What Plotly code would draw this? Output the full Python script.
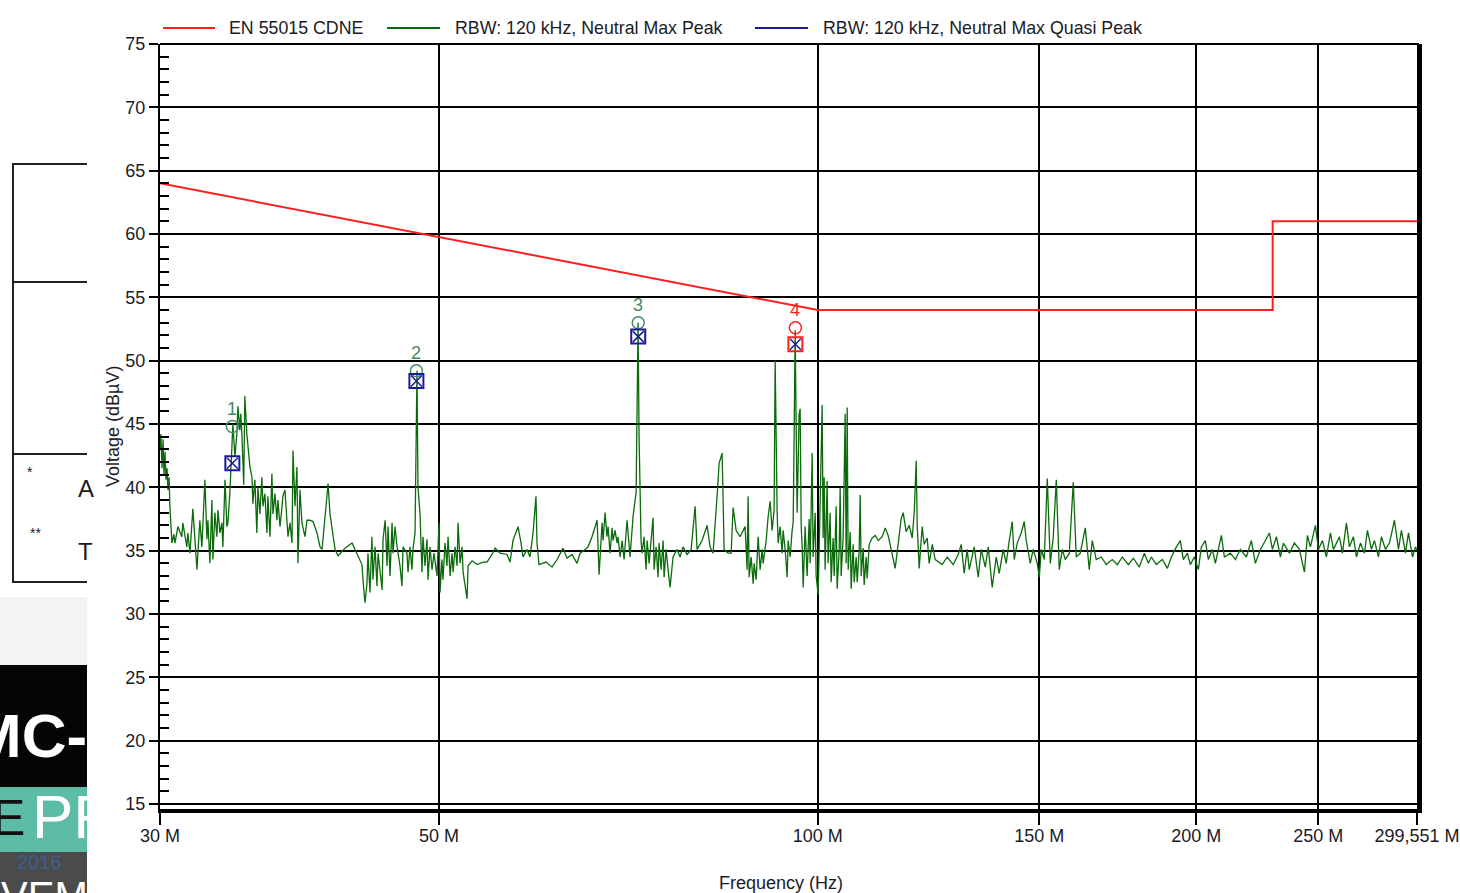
import math
import plotly.graph_objects as go

# ---------------- data ----------------
freq_mhz = [
    30.00, 30.05, 30.11, 30.17, 30.22, 30.28, 30.33, 30.39, 30.44, 30.50,
    30.55, 30.61, 30.66, 30.77, 30.83, 31.00, 31.22, 31.28, 31.51, 31.57,
    31.69, 31.86, 31.98, 32.10, 32.27, 32.39, 32.57, 32.69, 32.75, 32.87,
    32.99, 33.05, 33.17, 33.29, 33.36, 33.48, 33.60, 33.66, 33.79, 33.91,
    33.97, 34.09, 34.22, 34.28, 34.41, 34.53, 34.60, 34.72, 34.78, 34.85,
    34.97, 35.04, 35.17, 35.24, 35.37, 35.50, 35.56, 35.69, 35.82, 35.89,
    36.02, 36.15, 36.22, 36.35, 36.49, 36.55, 36.69, 36.82, 36.89, 37.03,
    37.16, 37.23, 37.37, 37.51, 37.57, 37.71, 37.85, 37.92, 38.06, 38.20,
    38.27, 38.41, 38.55, 38.62, 38.76, 38.90, 39.12, 39.26, 39.48, 39.70,
    39.99, 40.21, 40.36, 40.58, 40.81, 40.95, 41.33, 41.56, 42.09, 42.64,
    43.02, 43.42, 43.50, 43.66, 43.82, 43.90, 44.06, 44.22, 44.30, 44.47,
    44.63, 44.72, 45.05, 45.13, 45.30, 45.46, 45.54, 45.71, 45.88, 45.96,
    46.13, 46.30, 46.55, 46.72, 46.81, 47.15, 47.24, 47.41, 47.58, 47.67,
    47.85, 47.93, 48.02, 48.11, 48.29, 48.46, 48.55, 48.73, 48.91, 49.00,
    49.18, 49.36, 49.54, 49.81, 50.00, 50.09, 50.27, 50.36, 50.55, 50.73,
    50.83, 51.02, 51.20, 51.30, 51.49, 51.68, 51.77, 51.96, 52.15, 52.25,
    52.63, 52.73, 53.12, 53.61, 54.20, 54.59, 55.09, 55.40, 55.91, 56.63,
    56.94, 57.25, 57.78, 58.10, 58.31, 58.74, 59.06, 59.39, 59.71, 59.82,
    60.04, 60.82, 61.49, 62.06, 62.74, 63.20, 63.78, 64.37, 64.73, 65.32,
    65.68, 66.16, 66.53, 66.78, 67.02, 67.39, 67.51, 67.76, 68.00, 68.13,
    68.38, 68.63, 68.76, 69.01, 69.27, 69.39, 69.65, 69.91, 70.16, 70.54,
    70.93, 71.32, 71.72, 71.85, 71.98, 72.11, 72.37, 72.51, 72.77, 73.04,
    73.18, 73.45, 73.72, 73.98, 74.12, 74.39, 74.66, 74.80, 75.08, 75.35,
    75.49, 75.77, 76.04, 76.32, 76.74, 77.31, 77.73, 78.16, 78.74, 79.32,
    79.90, 80.19, 80.93, 81.67, 82.12, 82.57, 83.18, 83.49, 83.95, 84.26,
    84.88, 85.35, 85.66, 86.13, 86.76, 87.56, 87.88, 88.04, 88.21, 88.53,
    88.86, 89.02, 89.35, 89.67, 90.00, 90.33, 90.50, 91.00, 91.33, 91.66,
    92.00, 92.33, 92.51, 92.68, 92.85, 93.02, 93.36, 93.70, 93.87, 94.22,
    94.56, 94.74, 95.08, 95.43, 95.61, 95.78, 95.96, 96.13, 96.31, 96.66,
    96.84, 97.02, 97.20, 97.38, 97.73, 98.09, 98.45, 98.63, 98.99, 99.17,
    99.54, 99.72, 100.08, 100.27, 100.63, 100.82, 101.00, 101.19, 101.37, 101.75,
    101.93, 102.31, 102.49, 102.87, 103.06, 103.44, 103.63, 104.01, 104.20, 104.39,
    104.77, 105.16, 105.35, 105.55, 105.74, 106.13, 106.32, 106.71, 106.91, 107.30,
    107.50, 107.89, 108.09, 108.29, 108.69, 108.88, 109.28, 109.49, 109.89, 110.49,
    111.10, 111.72, 112.54, 113.16, 113.77, 114.40, 115.24, 115.87, 116.51, 116.94,
    117.58, 118.24, 118.89, 119.33, 119.76, 119.98, 120.42, 121.08, 121.53, 122.20,
    122.64, 123.35, 124.00, 125.60, 126.75, 128.16, 129.34, 130.05, 130.76, 131.48,
    131.97, 133.18, 134.16, 134.91, 135.90, 136.65, 137.64, 138.66, 139.42, 140.45,
    141.22, 142.00, 142.78, 143.31, 144.10, 145.15, 145.95, 146.49, 147.57, 148.38,
    149.47, 150.03, 150.58, 151.40, 152.24, 153.08, 153.92, 154.77, 155.62, 156.48,
    157.34, 158.50, 159.66, 160.54, 161.72, 163.21, 164.41, 165.31, 166.53, 168.07,
    169.61, 171.49, 173.06, 174.66, 176.59, 178.22, 180.18, 181.84, 183.17, 184.19,
    185.88, 187.94, 189.67, 191.06, 192.82, 194.23, 195.30, 196.74, 197.82, 199.27,
    200.74, 201.85, 203.33, 204.45, 205.95, 207.09, 209.38, 210.54, 212.86, 214.82,
    216.79, 219.19, 221.20, 222.83, 224.88, 226.95, 228.62, 229.88, 231.57, 233.27,
    234.56, 237.15, 239.34, 241.54, 243.76, 245.10, 246.45, 248.72, 250.09, 251.93,
    253.78, 255.65, 257.06, 259.89, 261.33, 263.24, 264.70, 266.64, 268.11, 270.08,
    272.07, 273.57, 275.58, 277.11, 279.15, 280.67, 282.74, 284.82, 287.44, 289.55,
    291.14, 293.29, 294.90, 297.08, 298.71, 299.55,
]

level_dbuv = [
    43.0, 44.2, 41.5, 43.8, 41.0, 42.8, 40.6, 41.5, 39.8, 40.8,
    38.5, 36.5, 35.6, 36.3, 35.6, 36.9, 36.1, 37.2, 35.3, 36.4,
    34.8, 38.3, 35.9, 33.5, 37.4, 35.3, 40.6, 35.9, 37.4, 34.0,
    39.0, 34.3, 38.0, 36.1, 38.2, 36.4, 37.2, 35.3, 40.6, 36.9,
    37.2, 39.5, 43.2, 45.0, 42.4, 44.2, 46.4, 44.5, 45.8, 44.2,
    40.2, 47.2, 44.2, 43.2, 41.6, 40.8, 38.7, 40.6, 36.4, 40.0,
    37.9, 40.8, 38.5, 39.5, 36.4, 39.3, 36.1, 41.1, 37.9, 39.5,
    37.4, 39.0, 36.9, 38.5, 39.3, 39.8, 36.6, 36.1, 37.2, 35.6,
    42.9, 38.5, 41.6, 34.0, 39.8, 37.2, 36.1, 37.4, 37.4, 37.3,
    36.4, 35.3, 35.1, 37.9, 40.3, 37.9, 35.1, 34.6, 35.2, 35.6,
    34.8, 33.9, 32.7, 30.9, 32.4, 34.8, 31.7, 36.1, 32.7, 35.3,
    32.2, 34.8, 31.9, 35.9, 37.4, 33.8, 36.9, 33.0, 37.2, 34.8,
    36.9, 35.3, 33.8, 32.2, 35.3, 34.8, 33.3, 35.3, 33.5, 35.1,
    36.4, 45.0, 49.2, 40.0, 37.9, 33.3, 36.1, 33.8, 35.9, 32.7,
    35.3, 33.5, 34.8, 33.0, 37.2, 31.7, 34.3, 32.7, 35.6, 33.8,
    36.1, 33.0, 34.8, 33.3, 35.3, 33.8, 37.2, 34.0, 35.3, 33.3,
    31.2, 33.8, 34.2, 33.9, 34.1, 34.1, 34.7, 35.2, 34.8, 34.7,
    34.1, 35.8, 36.9, 35.6, 34.5, 35.1, 34.5, 36.4, 39.3, 35.6,
    33.9, 34.1, 33.7, 34.3, 35.2, 34.4, 34.7, 34.0, 34.8, 35.1,
    35.3, 36.1, 36.9, 37.4, 33.1, 37.2, 35.8, 38.0, 36.1, 36.9,
    34.8, 36.8, 35.8, 36.6, 35.6, 36.1, 34.5, 35.8, 34.3, 37.4,
    34.5, 37.7, 39.6, 45.0, 53.0, 44.0, 35.8, 34.8, 36.1, 33.5,
    35.8, 34.0, 35.6, 37.6, 33.5, 35.3, 32.9, 35.6, 33.5, 35.8,
    32.9, 35.1, 33.5, 32.1, 34.5, 35.1, 34.5, 35.3, 34.7, 35.1,
    38.5, 35.1, 35.8, 37.0, 35.3, 34.8, 39.3, 41.9, 42.7, 35.1,
    34.8, 34.8, 38.4, 36.6, 36.1, 36.9, 33.5, 39.3, 32.9, 34.5,
    32.4, 34.0, 32.7, 36.1, 33.5, 35.1, 34.0, 35.8, 37.7, 38.9,
    36.6, 38.2, 50.0, 41.0, 38.0, 35.6, 36.9, 34.8, 36.6, 35.1,
    32.9, 35.8, 34.5, 36.6, 37.2, 44.0, 52.4, 45.0, 38.0, 45.8,
    46.2, 37.0, 35.3, 32.1, 36.9, 33.0, 37.5, 34.0, 42.7, 34.5,
    38.0, 33.0, 31.5, 35.0, 44.0, 46.5, 36.0, 40.8, 33.5, 40.5,
    34.0, 38.0, 32.5, 36.0, 33.0, 38.5, 32.0, 35.0, 40.0, 33.0,
    36.0, 45.8, 34.0, 46.3, 33.5, 36.5, 32.0, 35.5, 32.5, 34.5,
    32.5, 35.0, 39.4, 33.0, 35.2, 32.3, 34.5, 32.8, 35.5, 36.0,
    36.2, 35.8, 36.1, 36.8, 36.2, 35.0, 33.6, 35.5, 37.5, 38.0,
    36.5, 37.0, 36.0, 38.0, 42.1, 37.0, 33.6, 36.9, 35.5, 36.0,
    34.0, 35.5, 34.3, 33.9, 34.5, 33.9, 34.7, 35.5, 33.2, 35.1,
    33.5, 35.3, 32.9, 35.1, 33.7, 35.3, 32.1, 34.5, 33.2, 35.1,
    34.0, 35.8, 37.3, 34.3, 35.6, 36.4, 37.3, 35.8, 34.0, 35.1,
    34.0, 32.9, 35.1, 34.3, 40.7, 34.0, 36.1, 40.6, 33.5, 35.1,
    34.3, 34.8, 40.4, 34.5, 34.8, 36.8, 33.5, 35.8, 34.3, 34.5,
    33.9, 34.3, 33.9, 34.5, 33.9, 34.4, 33.7, 34.8, 34.0, 34.5,
    33.9, 34.3, 33.6, 34.5, 35.3, 35.8, 34.3, 34.8, 33.9, 34.5,
    33.5, 35.3, 35.8, 34.3, 35.1, 34.0, 36.2, 34.5, 34.8, 34.3,
    35.1, 34.5, 35.8, 34.0, 35.1, 35.8, 36.4, 35.1, 36.1, 34.5,
    35.6, 34.8, 35.6, 35.1, 33.3, 36.2, 35.3, 37.0, 35.1, 35.8,
    34.5, 36.4, 35.1, 36.1, 34.8, 37.2, 35.3, 36.1, 34.5, 35.6,
    34.8, 36.6, 35.1, 35.8, 34.5, 36.1, 35.1, 35.6, 37.4, 35.1,
    36.6, 34.8, 36.4, 34.5, 35.3, 35.0,
]

limit_freq_mhz = [30, 100, 230, 230, 299.551]
limit_dbuv = [64, 54, 54, 61, 61]

marker_ids = ["1", "2", "3", "4"]
marker_freq_mhz = [34.25, 47.97, 72.0, 96.0]
marker_peak_dbuv = [44.8, 49.2, 53.0, 52.6]
marker_qp_dbuv = [41.9, 48.4, 51.9, 51.3]

x_tick_mhz = [30, 50, 100, 150, 200, 250, 299.551]
x_tick_text = ["30 M", "50 M", "100 M", "150 M", "200 M", "250 M", "299,551 M"]

legend_names = ["EN 55015 CDNE", "RBW: 120 kHz, Neutral Max Peak",
                "RBW: 120 kHz, Neutral Max Quasi Peak"]
x_title = "Frequency (Hz)"
y_title = "Voltage (dBµV)"

# ---------------- styling ----------------
RED = "#ff1e1e"
GREEN = "#0b6b0b"
NAVY = "#1a1a96"
MARK_GREEN = "#3d8f5e"
TEXT = "#1b1b26"
FONT = "Liberation Sans, Arial, sans-serif"

W, H = 1460, 893
L, R, T, B = 160, 43, 44, 84
PW, PH = W - L - R, H - T - B


def px(x):
    return (x - L) / PW


def py(y):
    return (H - B - y) / PH


hz = lambda v: [f * 1e6 for f in v]

fig = go.Figure()

fig.add_trace(go.Scatter(x=hz(freq_mhz), y=level_dbuv, mode="lines",
                         name=legend_names[1],
                         line=dict(color=GREEN, width=1.3)))
fig.add_trace(go.Scatter(x=hz(limit_freq_mhz), y=limit_dbuv, mode="lines",
                         name=legend_names[0],
                         line=dict(color=RED, width=2)))

circle_colors = [MARK_GREEN, MARK_GREEN, MARK_GREEN, RED]
box_colors = [NAVY, NAVY, NAVY, RED]
fig.add_trace(go.Scatter(x=hz(marker_freq_mhz), y=marker_peak_dbuv, mode="markers",
                         marker=dict(symbol="circle-open", size=12, color=circle_colors,
                                     line=dict(width=1.5)),
                         showlegend=False))
fig.add_trace(go.Scatter(x=hz(marker_freq_mhz), y=marker_qp_dbuv, mode="markers",
                         name=legend_names[2],
                         marker=dict(symbol="square-open", size=14, color=box_colors,
                                     line=dict(width=2))))
fig.add_trace(go.Scatter(x=hz(marker_freq_mhz), y=marker_qp_dbuv, mode="markers",
                         marker=dict(symbol="x-thin-open", size=11, color=NAVY,
                                     line=dict(width=1.5)),
                         showlegend=False))

annotations = []
for mid, f, v, c in zip(marker_ids, marker_freq_mhz, marker_peak_dbuv, circle_colors):
    annotations.append(dict(x=math.log10(f * 1e6), y=v, xref="x", yref="y",
                            text=mid, showarrow=False, yanchor="bottom", yshift=6,
                            font=dict(size=18, color=c, family=FONT)))

# axis titles placed as in the reference
annotations.append(dict(xref="paper", yref="paper", x=px(781), y=py(883), text=x_title,
                        showarrow=False, xanchor="center", yanchor="middle",
                        font=dict(size=18, color=TEXT, family=FONT)))
annotations.append(dict(xref="paper", yref="paper", x=px(113), y=py(427), text=y_title,
                        textangle=-90, showarrow=False, xanchor="center", yanchor="middle",
                        font=dict(size=18, color=TEXT, family=FONT)))

shapes = []
# manual legend
leg = [(163, 215, 227, RED), (387, 440, 453, GREEN), (755, 808, 821, NAVY)]
for (x0, x1, xt, c), name in zip(leg, legend_names):
    shapes.append(dict(type="line", xref="paper", yref="paper", x0=px(x0), x1=px(x1),
                       y0=py(28), y1=py(28), line=dict(color=c, width=2)))
    annotations.append(dict(xref="paper", yref="paper", x=px(xt), y=py(28),
                            xanchor="left", yanchor="middle", text=name, showarrow=False,
                            font=dict(size=17.8, color=TEXT, family=FONT)))

# frame: thick right edge and top edge
shapes.append(dict(type="line", xref="paper", yref="paper", x0=px(1419.5), x1=px(1419.5),
                   y0=py(813), y1=py(44), line=dict(color="black", width=5)))
shapes.append(dict(type="line", xref="paper", yref="paper", x0=0, x1=px(1419),
                   y0=1, y1=1, line=dict(color="black", width=2)))

# background document fragments on the left
for y in [164, 282, 454, 582]:
    shapes.append(dict(type="line", xref="paper", yref="paper", x0=px(12), x1=px(87),
                       y0=py(y), y1=py(y), line=dict(color="#222222", width=2)))
shapes.append(dict(type="line", xref="paper", yref="paper", x0=px(13), x1=px(13),
                   y0=py(164), y1=py(582), line=dict(color="#222222", width=2)))
rects = [(0, 87, 597, 665, "#f3f3f3"), (0, 87, 665, 893, "#050505"),
         (0, 87, 787, 852, "#5dbca5"), (0, 87, 852, 893, "#4b4b4b")]
for x0, x1, y0, y1, c in rects:
    shapes.append(dict(type="rect", xref="paper", yref="paper", x0=px(x0), x1=px(x1),
                       y0=py(y1), y1=py(y0), fillcolor=c, line=dict(width=0), layer="above"))

bg_text = [
    ("*", 30, 472, 14, TEXT, "center"),
    ("**", 35, 533, 14, TEXT, "center"),
    ("A", 76, 489, 24, TEXT, "left"),
    ("T", 76, 551, 24, TEXT, "left"),
    ("<b>MC-</b>", 89, 735, 62, "white", "right"),
    ("E", 8, 818, 50, "#111111", "center"),
    ("PR", 30, 816, 62, "white", "left"),
    ("2016", 64, 862, 20, "#3e5f8e", "right"),
    ("OVEM", 90, 896, 40, "white", "right"),
]
for txt, x, y, s, c, anc in bg_text:
    annotations.append(dict(xref="paper", yref="paper", x=px(x), y=py(y), text=txt,
                            xanchor=anc, yanchor="middle", showarrow=False,
                            font=dict(size=s, color=c, family=FONT)))

fig.update_layout(
    width=W, height=H, autosize=False,
    margin=dict(l=L, r=R, t=T, b=B, pad=0, autoexpand=False),
    paper_bgcolor="white", plot_bgcolor="white",
    showlegend=False,
    font=dict(family=FONT, size=18, color=TEXT),
    shapes=shapes, annotations=annotations,
    xaxis=dict(type="log", range=[math.log10(30e6), math.log10(299.551e6)],
               automargin=False,
               tickmode="array", tickvals=hz(x_tick_mhz), ticktext=x_tick_text,
               ticks="outside", ticklen=12, tickwidth=2, tickcolor="black",
               ticklabelstandoff=-5,
               showgrid=True, gridcolor="black", gridwidth=2,
               showline=True, linecolor="black", linewidth=4, zeroline=False,
               tickfont=dict(size=18, color=TEXT, family=FONT)),
    yaxis=dict(range=[14.605, 75], tickmode="linear", tick0=0, dtick=5,
               automargin=False,
               ticks="outside", ticklen=9, tickwidth=2, tickcolor="black",
               showgrid=True, gridcolor="black", gridwidth=2,
               showline=True, linecolor="black", linewidth=2, zeroline=False,
               minor=dict(ticks="inside", ticklen=9, tickwidth=2, tickcolor="black",
                          tick0=0, dtick=1, showgrid=False),
               tickfont=dict(size=18, color=TEXT, family=FONT)),
)

fig.write_html("out.html", config={"displayModeBar": False},
               post_script="document.body.style.margin='0';")
